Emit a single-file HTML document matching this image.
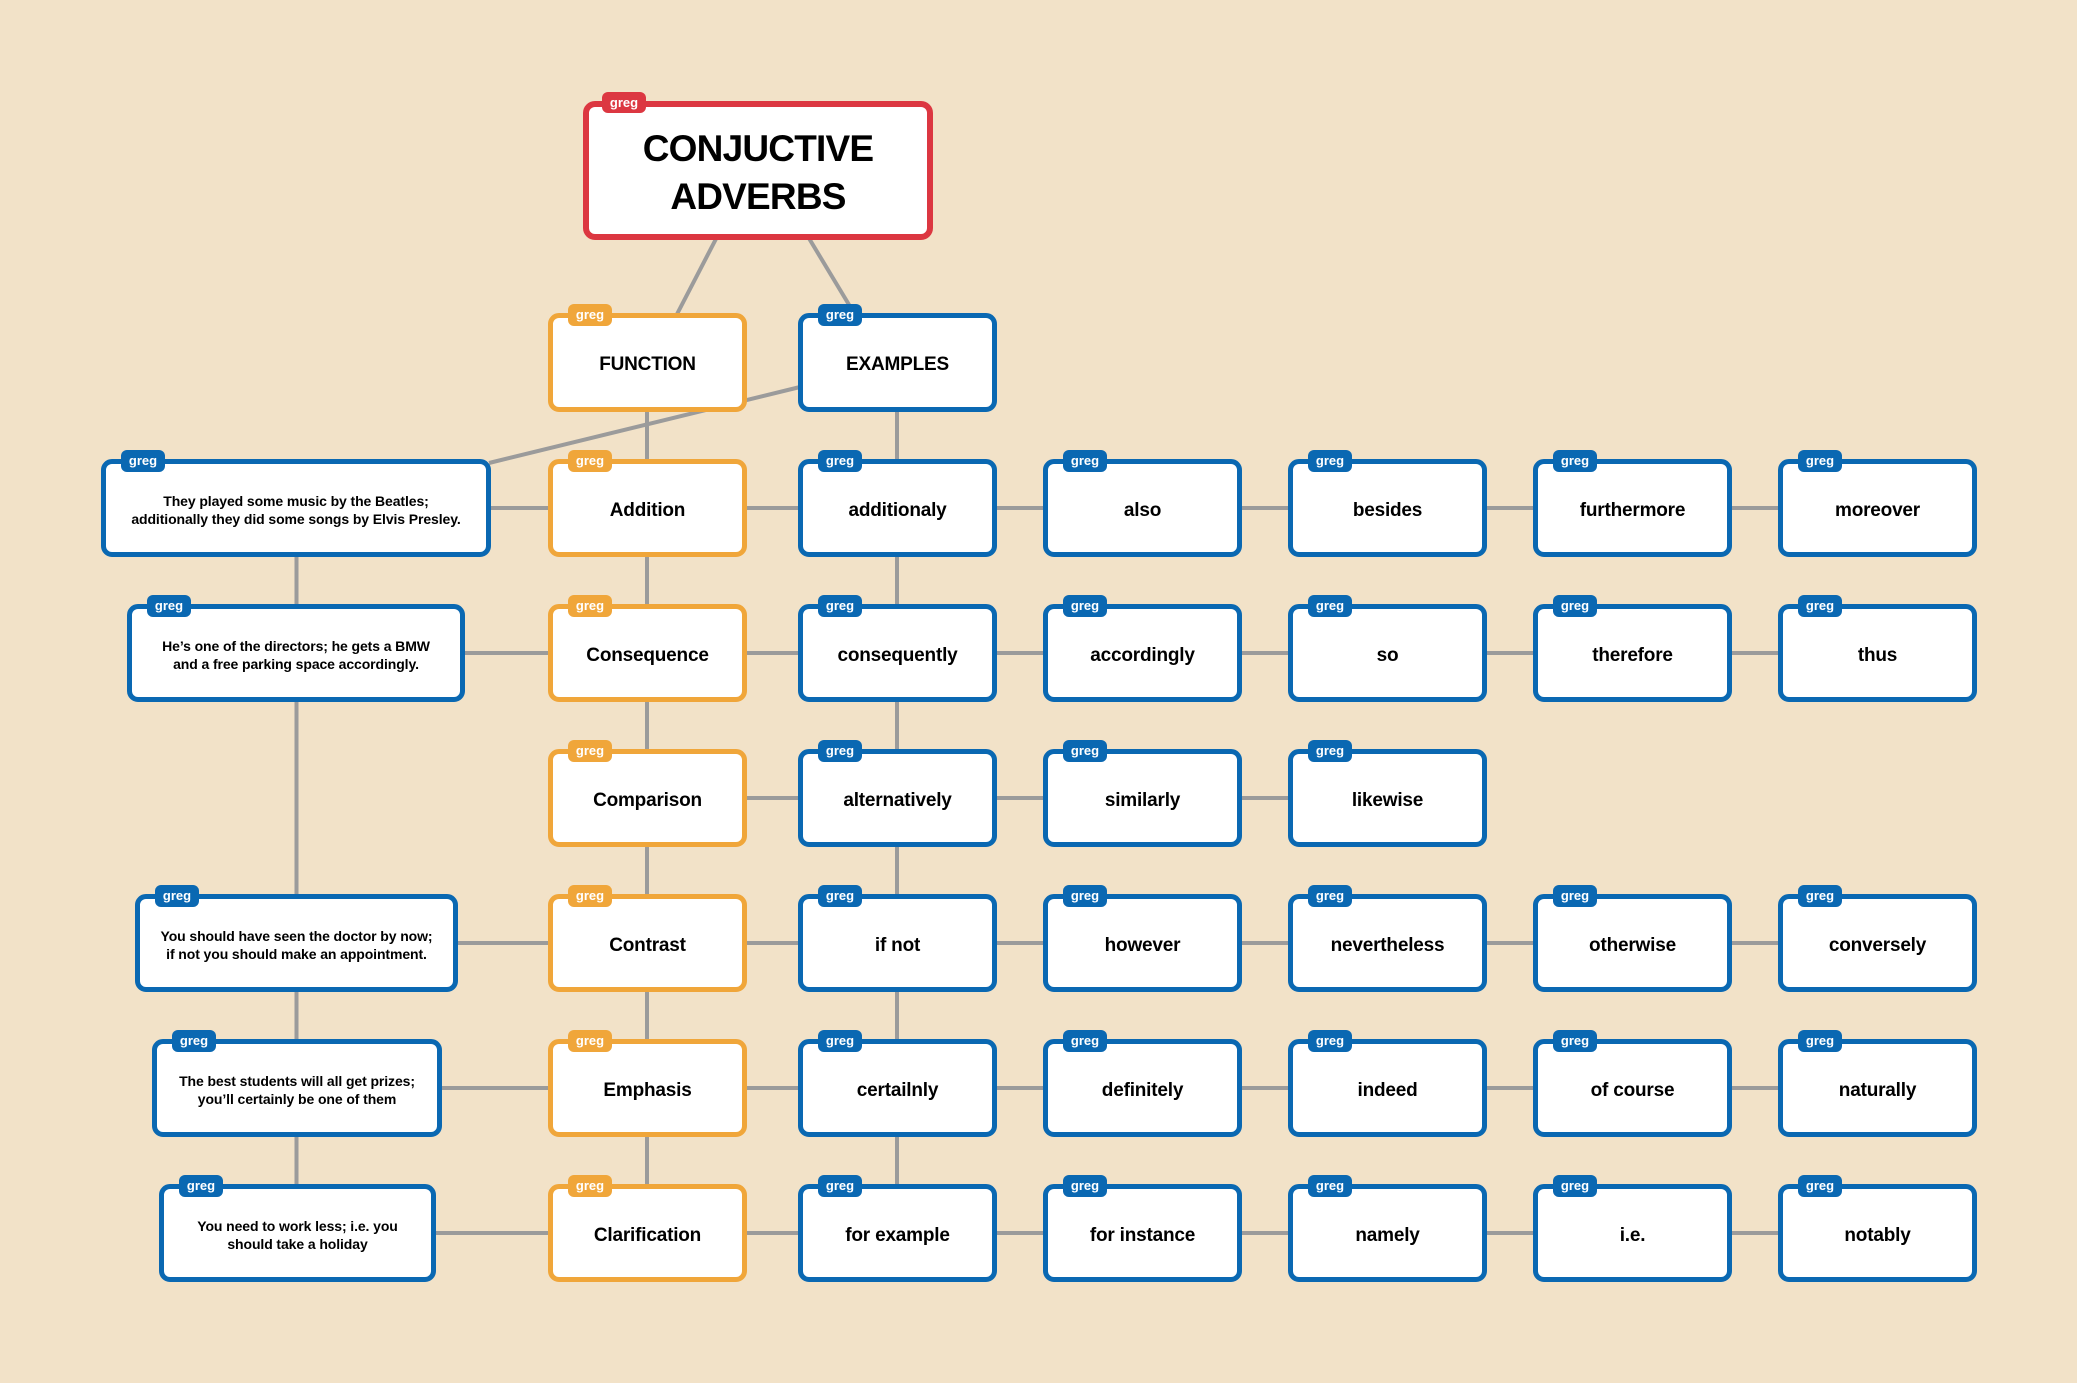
<!DOCTYPE html>
<html><head><meta charset="utf-8"><style>
html,body{margin:0;padding:0;}
body{width:2077px;height:1383px;background:#f2e2c8;position:relative;overflow:hidden;font-family:"Liberation Sans",Arial,sans-serif;}
svg{position:absolute;left:0;top:0;}
.b{position:absolute;box-sizing:border-box;border:5px solid #0a68b2;border-radius:11px;background:#fff;display:flex;align-items:center;justify-content:center;text-align:center;font-weight:bold;color:#000;font-size:19px;letter-spacing:-0.2px;padding-top:5px;}
.o{border-color:#f0a63a;}
.t{position:absolute;left:15px;top:-14px;width:44px;height:22px;border-radius:6px;background:#0a68b2;color:#fff;font-size:13px;line-height:21px;text-align:center;letter-spacing:0;font-weight:bold;}
.o .t{background:#f0a63a;}
.ex{font-size:14px;line-height:18px;letter-spacing:-0.1px;padding-top:3px;}
.r{border:6px solid #dc3741;border-radius:12px;font-size:37px;line-height:48px;letter-spacing:-0.8px;padding-top:4px;}
.r .t{background:#dc3741;left:13px;top:-15px;height:21px;}
</style></head><body>
<svg width="2077" height="1383">
<g stroke="#9b9b9b" stroke-width="4" fill="none">
<line x1="718" y1="235" x2="675" y2="318"/>
<line x1="807" y1="235" x2="857" y2="318"/>
<line x1="800" y1="387" x2="489" y2="463"/>
<line x1="296.5" y1="550" x2="296.5" y2="1190"/>
<line x1="647" y1="405" x2="647" y2="1190"/>
<line x1="897" y1="405" x2="897" y2="1190"/>
<line x1="485" y1="508" x2="1782" y2="508"/>
<line x1="460" y1="653" x2="1782" y2="653"/>
<line x1="740" y1="798" x2="1292" y2="798"/>
<line x1="452" y1="943" x2="1782" y2="943"/>
<line x1="436" y1="1088" x2="1782" y2="1088"/>
<line x1="430" y1="1233" x2="1782" y2="1233"/>
</g>
</svg>

<div class="b r" style="left:583px;top:101px;width:350px;height:139px;"><div class="t">greg</div>CONJUCTIVE<br>ADVERBS</div>

<div class="b o" style="left:548px;top:313px;width:199px;height:99px;"><div class="t">greg</div>FUNCTION</div>
<div class="b" style="left:798px;top:313px;width:199px;height:99px;"><div class="t">greg</div>EXAMPLES</div>

<!-- example sentences -->
<div class="b ex" style="left:101px;top:459px;width:390px;height:98px;"><div class="t">greg</div>They played some music by the Beatles;<br>additionally they did some songs by Elvis Presley.</div>
<div class="b ex" style="left:127px;top:604px;width:338px;height:98px;"><div class="t">greg</div>He’s one of the directors; he gets a BMW<br>and a free parking space accordingly.</div>
<div class="b ex" style="left:135px;top:894px;width:323px;height:98px;"><div class="t">greg</div>You should have seen the doctor by now;<br>if not you should make an appointment.</div>
<div class="b ex" style="left:152px;top:1039px;width:290px;height:98px;"><div class="t">greg</div>The best students will all get prizes;<br>you’ll certainly be one of them</div>
<div class="b ex" style="left:159px;top:1184px;width:277px;height:98px;"><div class="t">greg</div>You need to work less; i.e. you<br>should take a holiday</div>

<!-- function column -->
<div class="b o" style="left:548px;top:459px;width:199px;height:98px;"><div class="t">greg</div>Addition</div>
<div class="b o" style="left:548px;top:604px;width:199px;height:98px;"><div class="t">greg</div>Consequence</div>
<div class="b o" style="left:548px;top:749px;width:199px;height:98px;"><div class="t">greg</div>Comparison</div>
<div class="b o" style="left:548px;top:894px;width:199px;height:98px;"><div class="t">greg</div>Contrast</div>
<div class="b o" style="left:548px;top:1039px;width:199px;height:98px;"><div class="t">greg</div>Emphasis</div>
<div class="b o" style="left:548px;top:1184px;width:199px;height:98px;"><div class="t">greg</div>Clarification</div>

<!-- row 1 -->
<div class="b" style="left:798px;top:459px;width:199px;height:98px;"><div class="t">greg</div>additionaly</div>
<div class="b" style="left:1043px;top:459px;width:199px;height:98px;"><div class="t">greg</div>also</div>
<div class="b" style="left:1288px;top:459px;width:199px;height:98px;"><div class="t">greg</div>besides</div>
<div class="b" style="left:1533px;top:459px;width:199px;height:98px;"><div class="t">greg</div>furthermore</div>
<div class="b" style="left:1778px;top:459px;width:199px;height:98px;"><div class="t">greg</div>moreover</div>
<!-- row 2 -->
<div class="b" style="left:798px;top:604px;width:199px;height:98px;"><div class="t">greg</div>consequently</div>
<div class="b" style="left:1043px;top:604px;width:199px;height:98px;"><div class="t">greg</div>accordingly</div>
<div class="b" style="left:1288px;top:604px;width:199px;height:98px;"><div class="t">greg</div>so</div>
<div class="b" style="left:1533px;top:604px;width:199px;height:98px;"><div class="t">greg</div>therefore</div>
<div class="b" style="left:1778px;top:604px;width:199px;height:98px;"><div class="t">greg</div>thus</div>
<!-- row 3 -->
<div class="b" style="left:798px;top:749px;width:199px;height:98px;"><div class="t">greg</div>alternatively</div>
<div class="b" style="left:1043px;top:749px;width:199px;height:98px;"><div class="t">greg</div>similarly</div>
<div class="b" style="left:1288px;top:749px;width:199px;height:98px;"><div class="t">greg</div>likewise</div>
<!-- row 4 -->
<div class="b" style="left:798px;top:894px;width:199px;height:98px;"><div class="t">greg</div>if not</div>
<div class="b" style="left:1043px;top:894px;width:199px;height:98px;"><div class="t">greg</div>however</div>
<div class="b" style="left:1288px;top:894px;width:199px;height:98px;"><div class="t">greg</div>nevertheless</div>
<div class="b" style="left:1533px;top:894px;width:199px;height:98px;"><div class="t">greg</div>otherwise</div>
<div class="b" style="left:1778px;top:894px;width:199px;height:98px;"><div class="t">greg</div>conversely</div>
<!-- row 5 -->
<div class="b" style="left:798px;top:1039px;width:199px;height:98px;"><div class="t">greg</div>certailnly</div>
<div class="b" style="left:1043px;top:1039px;width:199px;height:98px;"><div class="t">greg</div>definitely</div>
<div class="b" style="left:1288px;top:1039px;width:199px;height:98px;"><div class="t">greg</div>indeed</div>
<div class="b" style="left:1533px;top:1039px;width:199px;height:98px;"><div class="t">greg</div>of course</div>
<div class="b" style="left:1778px;top:1039px;width:199px;height:98px;"><div class="t">greg</div>naturally</div>
<!-- row 6 -->
<div class="b" style="left:798px;top:1184px;width:199px;height:98px;"><div class="t">greg</div>for example</div>
<div class="b" style="left:1043px;top:1184px;width:199px;height:98px;"><div class="t">greg</div>for instance</div>
<div class="b" style="left:1288px;top:1184px;width:199px;height:98px;"><div class="t">greg</div>namely</div>
<div class="b" style="left:1533px;top:1184px;width:199px;height:98px;"><div class="t">greg</div>i.e.</div>
<div class="b" style="left:1778px;top:1184px;width:199px;height:98px;"><div class="t">greg</div>notably</div>
</body></html>
